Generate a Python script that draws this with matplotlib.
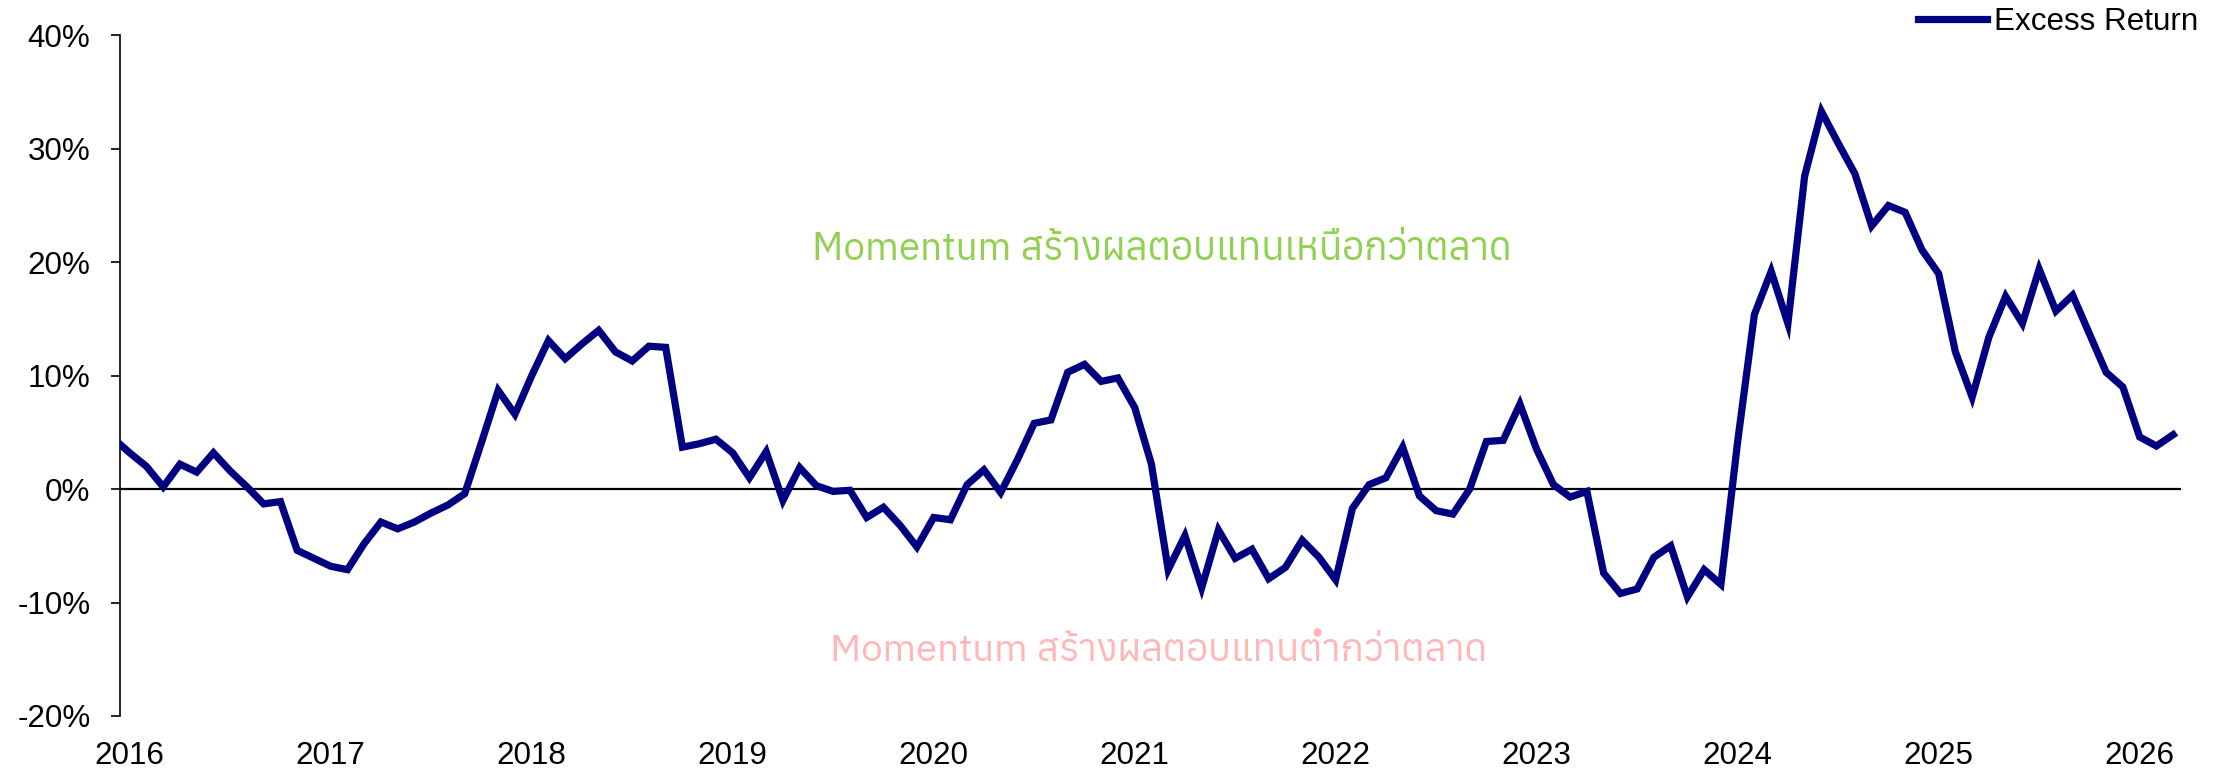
import numpy as np
import pandas as pd
import matplotlib
matplotlib.use("Agg")
import matplotlib.pyplot as plt

# monthly excess return (%), Dec 2015 .. Mar 2026
start_month = "2015-12"
excess_return = [
    4.5,
    3.2, 2.0, 0.2, 2.2, 1.5, 3.2, 1.6, 0.2, -1.3, -1.1, -5.4, -6.1,
    -6.8, -7.1, -4.8, -2.9, -3.5, -2.9, -2.1, -1.4, -0.4, 4.1, 8.7, 6.6,
    10.0, 13.1, 11.5, 12.8, 14.0, 12.1, 11.3, 12.6, 12.5, 3.7, 4.0, 4.4,
    3.2, 1.0, 3.3, -1.0, 1.9, 0.3, -0.2, -0.1, -2.5, -1.6, -3.2, -5.1,
    -2.5, -2.7, 0.4, 1.7, -0.3, 2.6, 5.8, 6.1, 10.3, 11.0, 9.5, 9.8,
    7.2, 2.2, -7.1, -4.1, -8.7, -3.6, -6.1, -5.3, -7.9, -6.9, -4.5, -6.0,
    -8.0, -1.7, 0.4, 1.0, 3.7, -0.6, -1.9, -2.2, 0.0, 4.2, 4.3, 7.5,
    3.5, 0.4, -0.7, -0.2, -7.4, -9.2, -8.8, -6.0, -5.0, -9.5, -7.1, -8.4,
    4.2, 15.4, 19.2, 14.6, 27.6, 33.3, 30.5, 27.8, 23.2, 25.0, 24.4, 21.1,
    19.0, 12.1, 8.1, 13.4, 17.0, 14.6, 19.4, 15.7, 17.1, 13.7, 10.3, 9.0,
    4.6, 3.8, 4.8,
]
y_ticks = [-20, -10, 0, 10, 20, 30, 40]
series_name = "Excess Return"
note_above = "Momentum สร้างผลตอบแทนเหนือกว่าตลาด"
note_below = "Momentum สร้างผลตอบแทนต่ำกว่าตลาด"

dates = pd.date_range(start_month, periods=len(excess_return), freq="MS")
x = np.arange(len(excess_return)) - 1  # index 0 = Jan 2016
year_pos = x[dates.month == 1]
year_lab = [str(d.year) for d in dates[dates.month == 1]]

plt.rcParams["font.family"] = ["Liberation Sans", "DejaVu Sans"]
thai_family = ["Anuphan", "IBM Plex Sans Thai", "DejaVu Sans"]

fig = plt.figure(figsize=(11.13, 3.85), dpi=200)
ax = fig.add_axes([0.05409, 0.07013, 0.92578, 0.8839])

ax.axhline(0, color="black", lw=0.8, zorder=1)
ax.plot(x, excess_return, color="#000080", lw=2.6, label=series_name,
        solid_joinstyle="miter", zorder=3)

ax.set_xlim(-0.555, 122.48)
ax.set_ylim(-20, 40)
ax.set_yticks(y_ticks)
ax.set_yticklabels([f"{t}%" for t in y_ticks])
ax.set_xticks(year_pos)
ax.set_xticklabels(year_lab)

for s in ["top", "right", "bottom"]:
    ax.spines[s].set_visible(False)
ax.spines["left"].set_linewidth(0.6)
ax.tick_params(axis="y", direction="out", length=3.3, width=0.6, pad=7.5,
               labelsize=11.3)
ax.tick_params(axis="x", length=0, pad=9, labelsize=11.3)

# notes above / below the zero line
ax.annotate(note_above, xy=((814 + 1510) / 2 / 2226, 1 - 250 / 770),
            xycoords="figure fraction", ha="center", va="center",
            color="#92D050", fontsize=13.9, family=thai_family)
ax.annotate(note_below, xy=((833 + 1484) / 2 / 2226, 1 - 651 / 770),
            xycoords="figure fraction", ha="center", va="center",
            color="#FFB7B7", fontsize=13.8, family=thai_family)

fig.legend(loc="center right", bbox_to_anchor=(2198 / 2226, 1 - 22 / 770),
           frameon=False, fontsize=11.3, handlelength=2.2, handletextpad=0.2,
           borderpad=0, borderaxespad=0)

fig.savefig("out.png", dpi=200)
